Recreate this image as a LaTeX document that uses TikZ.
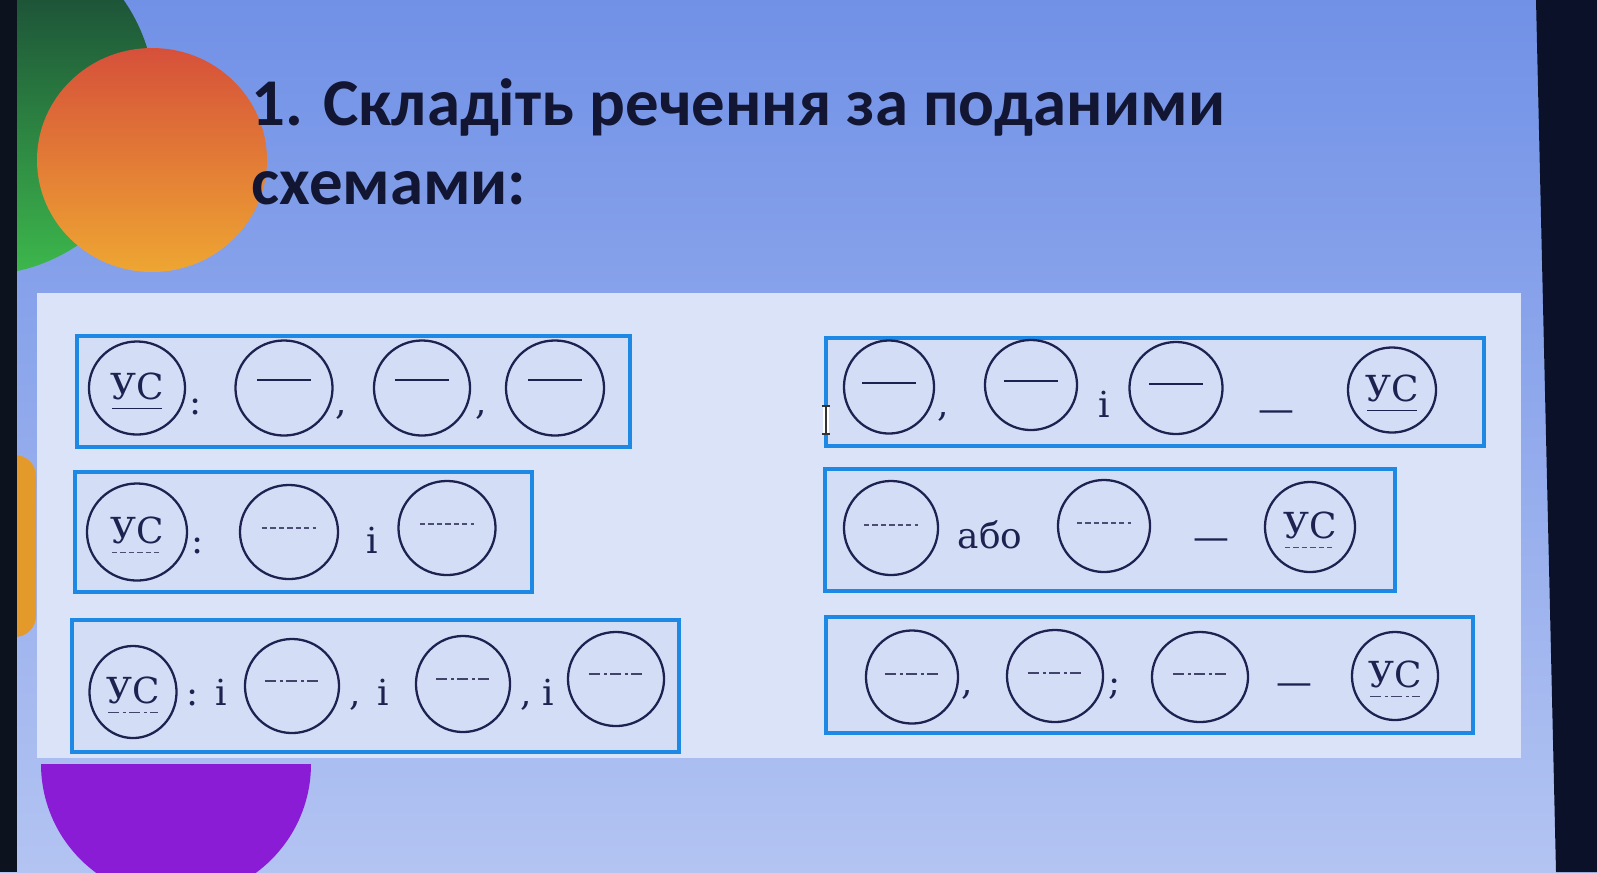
\documentclass[tikz,border=0pt]{standalone}
\usepackage{fontspec}
\setmainfont{DejaVu Serif}
\newfontfamily\titlefont{Carlito}
\newfontfamily\schemafont{DejaVu Serif}
\usetikzlibrary{shapes.geometric}
\definecolor{bgA}{HTML}{7191E7}
\definecolor{bgB}{HTML}{B3C4F2}
\definecolor{greenA}{HTML}{153A33}
\definecolor{greenB}{HTML}{3DB84C}
\definecolor{orA}{HTML}{D6503A}
\definecolor{orB}{HTML}{EEA632}
\definecolor{orSide}{HTML}{E49A2A}
\definecolor{purp}{HTML}{8A1CD6}
\definecolor{panelc}{HTML}{DAE3F7}
\definecolor{boxfill}{HTML}{D3DEF6}
\definecolor{boxblue}{HTML}{1E88E5}
\definecolor{ink}{HTML}{1E2250}
\definecolor{titleink}{HTML}{121633}
\definecolor{darkedge}{HTML}{0C121E}
\definecolor{darkright}{HTML}{0B1128}
\newcommand\dashcirc[7]{%
  \node[ell, minimum width=#4cm, minimum height=#5cm] (#1) at (#2,#3) {};
  \draw[#6] ([xshift=-0.27cm,yshift=#7cm]#1.center) -- ([xshift=0.27cm,yshift=#7cm]#1.center);
}
\newcommand\uscirc[6]{%
  \node[ell, minimum width=#4cm, minimum height=#5cm] (#1) at (#2,#3) {};
  \node[sym, anchor=base] (#1t) at ([yshift=-0.11cm]#1.center) {УС};
  \draw[#6] ([xshift=-0.25cm,yshift=-0.205cm]#1.center) -- ([xshift=0.25cm,yshift=-0.205cm]#1.center);
}
\begin{document}
\begin{tikzpicture}[x=0.01cm,y=-0.01cm,
  ell/.style={ellipse, draw=ink, line width=0.65pt, inner sep=0pt},
  sym/.style={inner sep=0pt, text=ink, font=\schemafont\fontsize{10.2pt}{12pt}\selectfont},
  boxst/.style={draw=boxblue, line width=1.3pt, fill=boxfill},
  solidl/.style={draw=ink, line width=0.55pt},
  dashl/.style={draw=ink!80, line width=0.5pt, dash pattern=on 1.5pt off 0.9pt},
  dotl/.style={draw=ink!85, line width=0.5pt, dash pattern=on 3.2pt off 1pt on 0.8pt off 1pt},
  titlest/.style={anchor=base west, inner sep=0pt, text=titleink, font=\titlefont\bfseries\fontsize{19pt}{22pt}\selectfont}
]
\useasboundingbox (0,0) rectangle (1597,872);
% background
\shade[top color=bgA, bottom color=bgB] (0,0) rectangle (1597,872);
\shade[top color=greenA, bottom color=greenB] (-20,100) circle (175);
\shade[top color=orA, bottom color=orB] (152,160) ellipse [x radius=115, y radius=112];
\fill[orSide, rounded corners=6pt] (-30,455) rectangle (36,637);
\begin{scope}
  \clip (0,764) rectangle (1597,872);
  \fill[purp] (176,764) circle (135);
\end{scope}
\fill[panelc] (37,293) rectangle (1521,758);
\fill[darkedge] (0,0) rectangle (17,872);
\fill[darkright] (1536,0) -- (1597,0) -- (1597,872) -- (1556,872) -- cycle;
% title
\node[titlest] (t1) at (251,125) {1. Складіть речення за поданими};
\node[titlest] (t2) at (251,204) {схемами:};
% boxes
\draw[boxst] (77,336) rectangle (630,447);
\draw[boxst] (826,338) rectangle (1484,446);
\draw[boxst] (75,472) rectangle (532,592);
\draw[boxst] (825,469) rectangle (1395,591);
\draw[boxst] (72,620) rectangle (679,752);
\draw[boxst] (826,617) rectangle (1473,733);
% row 1 left
\uscirc{u1}{137}{388}{0.96}{0.93}{solidl}
\node[sym, anchor=base] (p11) at (196,414) {:};
\dashcirc{c12}{284}{388}{0.97}{0.95}{solidl}{0.08}
\node[sym, anchor=base] (p12) at (341,414) {,};
\dashcirc{c13}{422}{388}{0.96}{0.95}{solidl}{0.08}
\node[sym, anchor=base] (p13) at (481,414) {,};
\dashcirc{c14}{555}{388}{0.98}{0.95}{solidl}{0.08}
% row 1 right
\dashcirc{c21}{889}{387}{0.90}{0.93}{solidl}{0.04}
\node[sym, anchor=base] (p21) at (943,416) {,};
\dashcirc{c22}{1031}{385}{0.92}{0.90}{solidl}{0.04}
\node[sym, anchor=base] (p22) at (1104,417) {і};
\dashcirc{c23}{1176}{388}{0.93}{0.92}{solidl}{0.04}
\node[sym, anchor=base] (p23) at (1276,421) {—};
\uscirc{u2}{1392}{390}{0.88}{0.85}{solidl}
% cursor
\coordinate (cu1) at (826,406);
\coordinate (cu2) at (826,434);
\draw[white, line width=1.6pt] (cu1) -- (cu2);
\draw[black!80, line width=0.6pt] (cu1) -- (cu2);
\draw[black!80, line width=0.6pt] ([xshift=-0.04cm]cu1) -- ([xshift=0.04cm]cu1);
\draw[black!80, line width=0.6pt] ([xshift=-0.04cm]cu2) -- ([xshift=0.04cm]cu2);
% row 2 left
\uscirc{u3}{137}{532}{1.00}{0.97}{dashl}
\node[sym, anchor=base] (p31) at (198,553) {:};
\dashcirc{c32}{289}{532}{0.98}{0.94}{dashl}{0.04}
\node[sym, anchor=base] (p32) at (372,553) {і};
\dashcirc{c33}{447}{528}{0.97}{0.94}{dashl}{0.04}
% row 2 right
\dashcirc{c41}{891}{528}{0.94}{0.94}{dashl}{0.03}
\node[sym, anchor=base] (p41) at (990,548) {або};
\dashcirc{c42}{1104}{526}{0.92}{0.92}{dashl}{0.03}
\node[sym, anchor=base] (p42) at (1211,549) {—};
\uscirc{u4}{1310}{527}{0.90}{0.90}{dashl}
% row 3 left
\uscirc{u5}{133}{692}{0.87}{0.92}{dotl}
\node[sym, anchor=base] (p51) at (193,705) {:};
\node[sym, anchor=base] (p52) at (221,705) {і};
\dashcirc{c52}{292}{686}{0.94}{0.94}{dotl}{0.05}
\node[sym, anchor=base] (p53) at (355,705) {,};
\node[sym, anchor=base] (p54) at (383,705) {і};
\dashcirc{c53}{463}{684}{0.94}{0.96}{dotl}{0.05}
\node[sym, anchor=base] (p55) at (526,705) {,};
\node[sym, anchor=base] (p56) at (548,705) {і};
\dashcirc{c54}{616}{679}{0.96}{0.94}{dotl}{0.05}
% row 3 right
\dashcirc{c61}{912}{677}{0.92}{0.93}{dotl}{0.03}
\node[sym, anchor=base] (p61) at (967,694) {,};
\dashcirc{c62}{1055}{676}{0.96}{0.92}{dotl}{0.03}
\node[sym, anchor=base] (p62) at (1115,694) {;};
\dashcirc{c63}{1200}{677}{0.96}{0.90}{dotl}{0.03}
\node[sym, anchor=base] (p63) at (1294,694) {—};
\uscirc{u6}{1395}{676}{0.86}{0.88}{dotl}
\end{tikzpicture}
\end{document}
